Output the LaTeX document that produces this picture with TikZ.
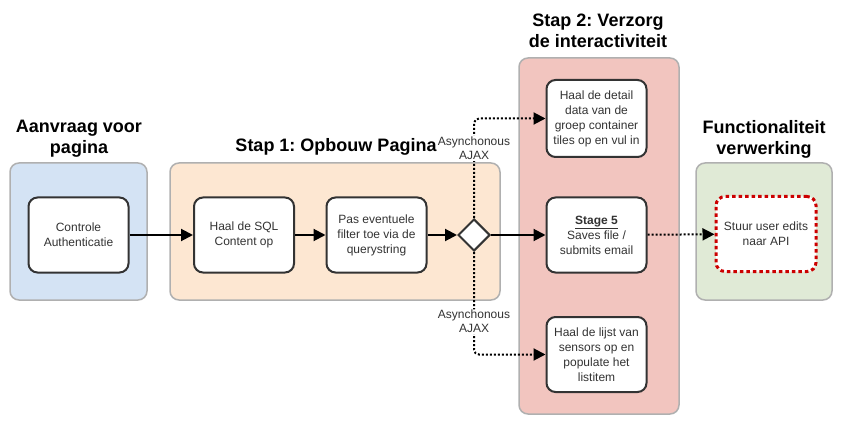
\documentclass[tikz,border=0pt]{standalone}
\usepackage{fontspec}
\setmainfont{Liberation Sans}
\usetikzlibrary{arrows.meta,shapes.geometric}
\definecolor{laneblue}{HTML}{D4E3F4}
\definecolor{laneorange}{HTML}{FDE7D2}
\definecolor{lanered}{HTML}{F2C5BF}
\definecolor{lanegreen}{HTML}{E0EAD6}
\definecolor{lanerand}{HTML}{B0B0B0}
\definecolor{boxrand}{HTML}{333333}
\definecolor{apired}{HTML}{CC0000}
\frenchspacing
\tikzset{
  lane/.style={draw=lanerand,line width=1.5pt,rounded corners=9pt,inner sep=0pt},
  taak/.style={draw=boxrand,fill=white,line width=2pt,rounded corners=9pt,
    minimum width=100pt,minimum height=75pt,inner sep=1pt,align=center,
    text=boxrand,font=\fontsize{12}{15}\selectfont},
  titel/.style={align=center,font=\bfseries\fontsize{18}{21}\selectfont},
  stroom/.style={line width=2pt,-{Triangle[length=12pt,width=12pt]}},
  async/.style={stroom,dash pattern=on 2pt off 2pt,rounded corners=5pt},
  ajax/.style={fill=white,align=center,inner sep=1pt,text=boxrand,
    font=\fontsize{12}{14}\selectfont}
}
\begin{document}
\begin{tikzpicture}[x=1pt,y=-1pt]
\useasboundingbox (0,0) rectangle (861,430);
% lanes
\node[lane,fill=laneblue,minimum width=137pt,minimum height=137pt] (aanvraag) at (78.5,231.5) {};
\node[lane,fill=laneorange,minimum width=330pt,minimum height=137pt] (opbouw) at (335,231.5) {};
\node[lane,fill=lanered,minimum width=160pt,minimum height=356pt] (interactie) at (599,236) {};
\node[lane,fill=lanegreen,minimum width=136pt,minimum height=137pt] (verwerking) at (764,231.5) {};
\node[titel] (t1) at (79,139) {Aanvraag voor\\pagina};
\node[titel] (t2) at (336,147) {Stap 1: Opbouw Pagina};
\node[titel] (t3) at (598,31) {Stap 2: Verzorg\\de interactiviteit};
\node[titel] (t4) at (764,139) {Functionaliteit\\verwerking};
% taken
\node[taak] (auth) at (78.5,235) {Controle\\Authenticatie};
\node[taak] (sql) at (244,235) {Haal de SQL\\Content op};
\node[taak] (filter) at (376.5,235) {Pas eventuele\\filter toe via de\\querystring};
\node[draw=boxrand,fill=white,line width=2pt,diamond,minimum width=32pt,minimum height=32pt,inner sep=0pt] (gate) at (474,235) {};
\node[taak,minimum height=77pt] (detail) at (596.5,118.5) {Haal de detail\\data van de\\groep container\\tiles op en vul in};
\node[taak] (stage) at (596.5,235) {\underline{\textbf{Stage 5}}\\Saves file /\\submits email};
\node[taak] (lijst) at (596.5,354.5) {Haal de lijst van\\sensors op en\\populate het\\listitem};
\node[taak,draw=apired,line width=3pt,dash pattern=on 3.5pt off 3pt] (api) at (766,234) {Stuur user edits\\naar API};
% verbindingen
\draw[stroom] (auth) -- (sql);
\draw[stroom] (sql) -- (filter);
\draw[stroom] (filter) -- (gate);
\draw[stroom] (gate) -- (stage);
\draw[stroom,dash pattern=on 2pt off 2pt] (stage) -- (api);
\draw[async] (gate.north) |- (detail.west) node[ajax,pos=0.35] {Asynchonous\\AJAX};
\draw[async] (gate.south) |- (lijst.west) node[ajax,pos=0.34] {Asynchonous\\AJAX};
\end{tikzpicture}
\end{document}
